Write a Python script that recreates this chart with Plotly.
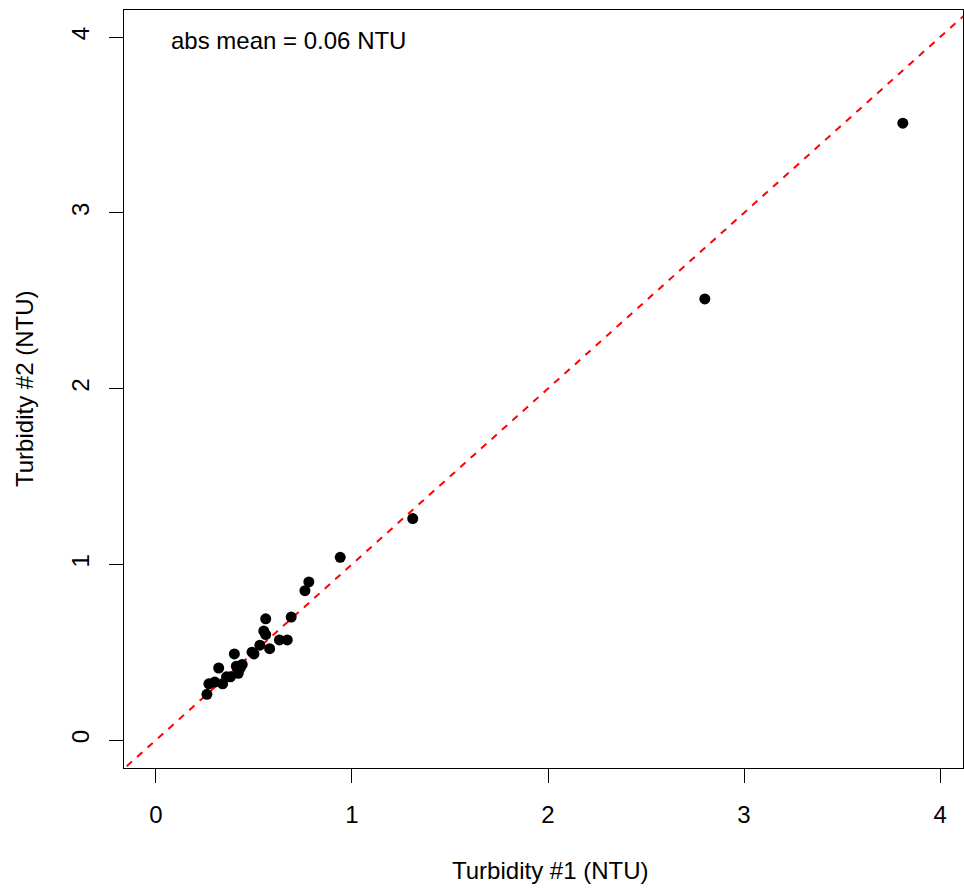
import plotly.graph_objects as go

turb1 = [0.26, 0.27, 0.30, 0.32, 0.34, 0.36, 0.38, 0.40, 0.41, 0.42, 0.43, 0.44,
         0.49, 0.50, 0.53, 0.55, 0.56, 0.56, 0.58, 0.63, 0.67, 0.69, 0.76, 0.78,
         0.94, 1.31, 2.80, 3.81]
turb2 = [0.26, 0.32, 0.33, 0.41, 0.32, 0.36, 0.36, 0.49, 0.42, 0.38, 0.41, 0.43,
         0.50, 0.49, 0.54, 0.62, 0.69, 0.60, 0.52, 0.57, 0.57, 0.70, 0.85, 0.90,
         1.04, 1.26, 2.51, 3.51]
ref_line = [-1, 5]
ticks = [0, 1, 2, 3, 4]
label = "abs mean = 0.06 NTU"
x_title = "Turbidity #1 (NTU)"
y_title = "Turbidity #2 (NTU)"

FS = 24

fig = go.Figure()
fig.add_trace(go.Scatter(x=ref_line, y=ref_line, mode="lines",
                         line=dict(color="red", width=2, dash="7px,7px"),
                         hoverinfo="skip", showlegend=False))
fig.add_trace(go.Scatter(x=turb1, y=turb2, mode="markers",
                         marker=dict(color="black", size=11, line=dict(width=0)),
                         showlegend=False))

fig.add_annotation(x=0.066, y=3.98, xref="x", yref="y", text=label,
                   showarrow=False, xanchor="left", yanchor="middle",
                   font=dict(size=FS, color="black"))
fig.add_annotation(x=0.5077, y=0, xref="paper", yref="paper", text=x_title,
                   showarrow=False, xanchor="center", yanchor="middle", yshift=-102,
                   font=dict(size=FS, color="black"))
fig.add_annotation(x=0, y=0.5, xref="paper", yref="paper", text=y_title,
                   showarrow=False, xanchor="center", yanchor="middle", xshift=-100,
                   textangle=-90, font=dict(size=FS, color="black"))

axis_common = dict(showgrid=False, zeroline=False, showline=True, linecolor="black",
                   linewidth=1, mirror=True, ticks="outside", ticklen=14,
                   tickwidth=1, tickcolor="black", tickvals=ticks,
                   tickfont=dict(size=FS, color="black"))

fig.update_xaxes(range=[-0.163, 4.117], ticklabelstandoff=11, **axis_common)
fig.update_yaxes(range=[-0.159, 4.154], tickangle=-90, ticklabelstandoff=10, **axis_common)

fig.update_layout(width=964, height=890, margin=dict(l=124, r=1, t=10, b=122),
                  plot_bgcolor="white", paper_bgcolor="white",
                  font=dict(family="Liberation Sans, Arial, sans-serif", color="black"))

fig.write_html("out.html", config={"displayModeBar": False},
               post_script="document.body.style.margin='0';document.body.style.overflow='hidden';")
